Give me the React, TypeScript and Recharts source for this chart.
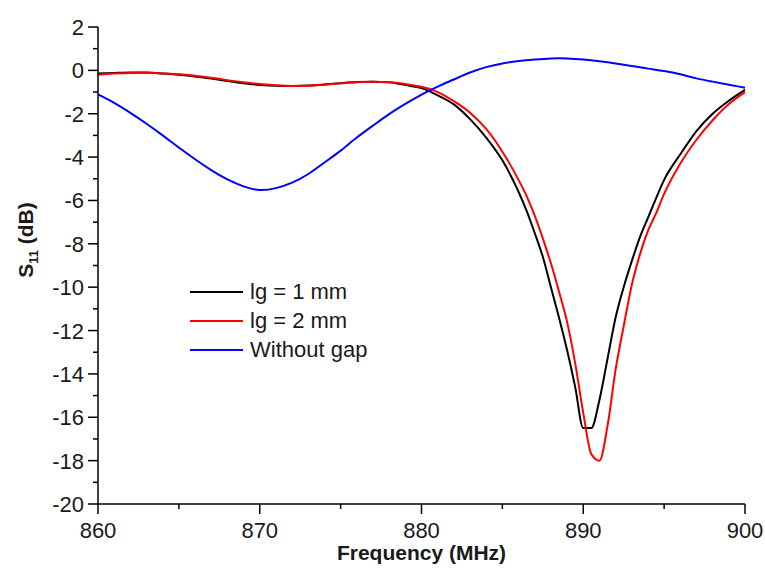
import { LineChart, Line, XAxis, YAxis } from "recharts";

// lg = 1 mm
const lg1Freq = [
  860, 861, 862, 863, 864, 865, 866, 867, 868, 869, 870, 871, 872, 873, 874, 875, 876, 877, 878, 879, 880,
  881, 882, 883, 884, 885, 886, 886.5, 887, 887.5, 888, 888.5, 889, 889.5, 890, 890.5, 891, 891.5, 892,
  892.5, 893, 893.5, 894, 894.5, 895, 896, 897, 898, 899, 900,
];
const lg1S11 = [
  -0.15, -0.12, -0.1, -0.1, -0.14, -0.2, -0.28, -0.38, -0.49, -0.6, -0.67, -0.71, -0.72, -0.7, -0.65, -0.59,
  -0.54, -0.52, -0.55, -0.68, -0.82, -1.15, -1.57, -2.25, -3.1, -4.15, -5.6, -6.48, -7.5, -8.6, -10.0, -11.4,
  -12.9, -14.6, -16.5, -16.5, -15.2, -13.3, -11.4, -10.0, -8.8, -7.7, -6.8, -5.9, -5.05, -3.87, -2.8, -2.0,
  -1.4, -0.9,
];

// lg = 2 mm
const lg2Freq = lg1Freq;
const lg2S11 = [
  -0.2, -0.15, -0.12, -0.11, -0.14, -0.18, -0.25, -0.34, -0.45, -0.55, -0.63, -0.69, -0.72, -0.71, -0.66, -0.6,
  -0.55, -0.53, -0.55, -0.63, -0.76, -1.0, -1.42, -1.95, -2.7, -3.75, -5.05, -5.8, -6.7, -7.75, -8.9, -10.2,
  -11.6, -13.5, -15.8, -17.7, -18.0, -16.4, -13.8, -11.8, -9.9, -8.5, -7.4, -6.6, -5.7, -4.3, -3.2, -2.3,
  -1.55, -1.0,
];

// without gap
const noGapFreq = [
  860, 861, 862, 863, 864, 865, 866, 867, 868, 869, 870, 871, 872, 873, 874, 875, 876, 877, 878, 879, 880,
  881, 882, 883, 884, 885, 886, 887, 888, 889, 890, 891, 892, 893, 894, 895, 896, 897, 898, 899, 900,
];
const noGapS11 = [
  -1.11, -1.5, -1.96, -2.46, -3.0, -3.56, -4.1, -4.6, -5.03, -5.35, -5.52, -5.43, -5.18, -4.78, -4.25, -3.7,
  -3.1, -2.55, -2.02, -1.55, -1.12, -0.75, -0.42, -0.1, 0.15, 0.32, 0.43, 0.5, 0.55, 0.55, 0.5, 0.42, 0.32,
  0.2, 0.08, -0.03, -0.18, -0.37, -0.52, -0.66, -0.8,
];

const xTicks = [860, 865, 870, 875, 880, 885, 890, 895, 900];
const yTicks = [
  -20, -19, -18, -17, -16, -15, -14, -13, -12, -11, -10, -9, -8, -7, -6, -5, -4, -3, -2, -1, 0, 1, 2,
];

const toPoints = (fs: number[], vs: number[]) => fs.map((f, i) => ({ f, v: vs[i] }));

const series = [
  { name: "lg = 1 mm", color: "#000000", curve: "monotone", data: toPoints(lg1Freq, lg1S11) },
  { name: "lg = 2 mm", color: "#ff0000", curve: "monotone", data: toPoints(lg2Freq, lg2S11) },
  { name: "Without gap", color: "#0000ff", curve: "natural", data: toPoints(noGapFreq, noGapS11) },
];

const FONT = "Arial, 'Liberation Sans', sans-serif";
const TXT = "#1a1a1a";

const XTick = ({ x, y, payload }: any) => {
  const major = payload.value % 10 === 0;
  return (
    <g>
      <line x1={x} x2={x} y1={y} y2={y + (major ? 10 : 5)} stroke="#000" strokeWidth={1.5} />
      {major && (
        <text x={x} y={y + 34} textAnchor="middle" fontSize={22} fontFamily={FONT} fill={TXT}>
          {payload.value}
        </text>
      )}
    </g>
  );
};

const YTick = ({ x, y, payload }: any) => {
  const major = payload.value % 2 === 0;
  return (
    <g>
      <line x1={x - (major ? 10 : 5)} x2={x} y1={y} y2={y} stroke="#000" strokeWidth={1.5} />
      {major && (
        <text x={x - 14} y={y + 8} textAnchor="end" fontSize={22} fontFamily={FONT} fill={TXT}>
          {payload.value}
        </text>
      )}
    </g>
  );
};

const XTitle = ({ viewBox }: any) => (
  <text
    x={viewBox.x + viewBox.width / 2}
    y={viewBox.y + 56}
    textAnchor="middle"
    fontSize={21}
    fontWeight="bold"
    fontFamily={FONT}
    fill={TXT}
  >
    Frequency (MHz)
  </text>
);

const YTitle = ({ viewBox }: any) => (
  <text
    transform={`translate(${viewBox.x + 23},${viewBox.y + 213}) rotate(-90)`}
    textAnchor="middle"
    fontSize={21}
    fontWeight="bold"
    fontFamily={FONT}
    fill={TXT}
  >
    S
    <tspan fontSize={13} dy={5}>
      11
    </tspan>
    <tspan dy={-5}> (dB)</tspan>
  </text>
);

const LegendBox = () => (
  <div
    style={{
      position: "absolute",
      left: 190,
      top: 277,
      fontFamily: FONT,
      fontSize: 22,
      color: TXT,
    }}
  >
    {series.map((s) => (
      <div key={s.name} style={{ display: "flex", alignItems: "center", height: 29 }}>
        <svg width={53} height={4} style={{ display: "block" }}>
          <line x1={0} x2={53} y1={2} y2={2} stroke={s.color} strokeWidth={2} />
        </svg>
        <span style={{ marginLeft: 7, lineHeight: "29px", whiteSpace: "nowrap" }}>{s.name}</span>
      </div>
    ))}
  </div>
);

export default function App() {
  return (
    <div style={{ position: "absolute", left: 0, top: 0, width: 765, height: 570, background: "#fff" }}>
      <LineChart width={765} height={570} margin={{ top: 27, right: 20, bottom: 6, left: 10 }}>
        <XAxis
          dataKey="f"
          type="number"
          domain={[860, 900]}
          ticks={xTicks}
          interval={0}
          tickSize={0}
          tickMargin={0}
          tickLine={false}
          tick={<XTick />}
          height={60}
          axisLine={{ stroke: "#000", strokeWidth: 1.5 }}
          allowDuplicatedCategory={false}
          label={<XTitle />}
        />
        <YAxis
          type="number"
          domain={[-20, 2]}
          ticks={yTicks}
          interval={0}
          tickSize={0}
          tickMargin={0}
          tickLine={false}
          tick={<YTick />}
          width={88}
          axisLine={{ stroke: "#000", strokeWidth: 1.5 }}
          label={<YTitle />}
        />
        {series.map((s) => (
          <Line
            key={s.name}
            data={s.data}
            dataKey="v"
            name={s.name}
            type={s.curve as any}
            stroke={s.color}
            strokeWidth={2}
            dot={false}
            activeDot={false}
            isAnimationActive={false}
          />
        ))}
      </LineChart>
      <LegendBox />
    </div>
  );
}
